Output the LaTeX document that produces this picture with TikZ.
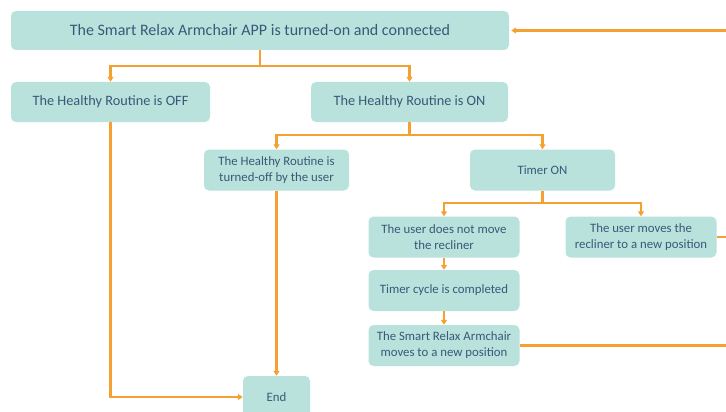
\documentclass[tikz,border=0pt]{standalone}
\usepackage{fontspec}
\setmainfont{Carlito}
\usetikzlibrary{arrows.meta}
\definecolor{boxfill}{HTML}{B9E2DC}
\definecolor{txt}{HTML}{3A5878}
\definecolor{lineor}{HTML}{F4A131}
\tikzset{
  box/.style={fill=boxfill, draw=none, rounded corners=5pt, text=txt, align=center, inner sep=0pt},
  big/.style={box, font=\fontsize{16}{19}\selectfont},
  mid/.style={box, font=\fontsize{14.3}{17}\selectfont},
  small/.style={box, font=\fontsize{12.8}{16}\selectfont},
  conn/.style={draw=lineor, line width=2.4pt},
  arr/.style={conn, -{Triangle[length=5pt,width=6pt]}},
}
\begin{document}
\begin{tikzpicture}[x=1pt,y=-1pt]
\useasboundingbox (0,0) rectangle (726,412);
\node[big, minimum width=498pt, minimum height=39pt] (top) at (260,30.5) {The Smart Relax Armchair APP is turned-on and connected};
\node[mid, minimum width=199pt, minimum height=40pt] (off) at (110.5,102) {The Healthy Routine is OFF};
\node[mid, minimum width=197pt, minimum height=40pt] (on) at (409.5,102) {The Healthy Routine is ON};
\node[small, minimum width=145pt, minimum height=41pt] (toff) at (276.5,170) {The Healthy Routine is\\turned-off by the user};
\node[small, minimum width=145pt, minimum height=41pt] (timer) at (542.5,170) {Timer ON};
\node[small, minimum width=151pt, minimum height=41pt] (nomove) at (444,237) {The user does not move\\the recliner};
\node[small, minimum width=151pt, minimum height=41pt] (umove) at (641,237) {The user moves the\\recliner to a new position};
\node[small, minimum width=151pt, minimum height=41pt] (cycle) at (444,290.5) {Timer cycle is completed};
\node[small, minimum width=151pt, minimum height=41pt] (smart) at (444,345.5) {The Smart Relax Armchair\\moves to a new position};
\node[small, minimum width=67pt, minimum height=42pt] (end) at (276.5,397) {End};
\coordinate (fbx) at (732,0);
\draw[arr] (top.south) -- ++(0,16) -| (off.north);
\draw[arr] (top.south) -- ++(0,16) -| (on.north);
\draw[arr] (on.south) -- ++(0,13) -| (toff.north);
\draw[arr] (on.south) -- ++(0,13) -| (timer.north);
\draw[arr] (timer.south) -- ++(0,12) -| (nomove.north);
\draw[arr] (timer.south) -- ++(0,12) -| (umove.north);
\draw[arr] (nomove.south) -- (cycle.north);
\draw[arr] (cycle.south) -- (smart.north);
\draw[arr] (off.south) |- (end.west);
\draw[arr] (toff.south) -- (end.north);
\draw[conn] (umove.east) -- (umove.east -| fbx);
\draw[arr] (smart.east) -- (smart.east -| fbx) |- ([xshift=2pt]top.east);
\end{tikzpicture}
\end{document}
